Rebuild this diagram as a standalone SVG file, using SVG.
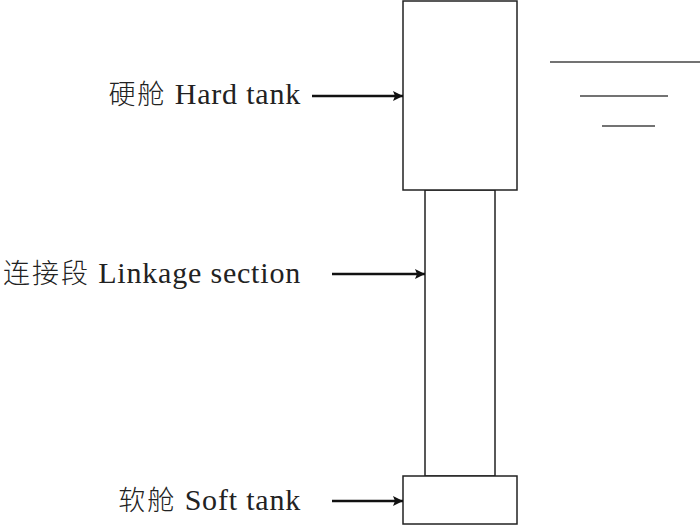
<svg xmlns="http://www.w3.org/2000/svg" width="700" height="525" viewBox="0 0 700 525">
<defs>
<marker id="ah" viewBox="0 0 10 10" refX="10" refY="5" markerWidth="13" markerHeight="10" markerUnits="userSpaceOnUse" orient="auto">
<path d="M0,0 L10,5 L0,10 L2,5 z" fill="#111"/>
</marker>
<style>
.box{fill:#fff;stroke:#222;stroke-width:1.5}
.lbl{font-family:"Liberation Serif","Noto Sans CJK SC",serif;font-size:30px;fill:#222;text-anchor:end;letter-spacing:0.8px}
.cjk{font-family:"Noto Sans CJK SC",sans-serif;font-size:27px;font-weight:300;letter-spacing:2px}
.arr{stroke:#111;stroke-width:2.4;fill:none;marker-end:url(#ah)}
.wl{stroke:#444;stroke-width:1.5}
</style>
</defs>
<rect width="700" height="525" fill="#fff"/>
<g id="linkage"><rect class="box" x="425" y="190" width="70" height="286"/></g>
<g id="hard-tank"><rect class="box" x="403" y="1" width="114" height="189"/></g>
<g id="soft-tank"><rect class="box" x="403" y="476" width="114" height="48"/></g>
<g id="water">
<line class="wl" x1="550" y1="62" x2="700" y2="62"/>
<line class="wl" x1="580" y1="96" x2="668" y2="96"/>
<line class="wl" x1="602" y1="126" x2="655" y2="126"/>
</g>
<g id="labels">
<text class="lbl" x="301" y="104"><tspan class="cjk">硬舱</tspan> Hard tank</text>
<text class="lbl" x="301" y="283"><tspan class="cjk">连接段</tspan> Linkage section</text>
<text class="lbl" x="301" y="510"><tspan class="cjk">软舱</tspan> Soft tank</text>
</g>
<g id="connectors">
<line class="arr" x1="312" y1="96" x2="403" y2="96"/>
<line class="arr" x1="332" y1="274" x2="425" y2="274"/>
<line class="arr" x1="332" y1="501" x2="403" y2="501"/>
</g>
</svg>
